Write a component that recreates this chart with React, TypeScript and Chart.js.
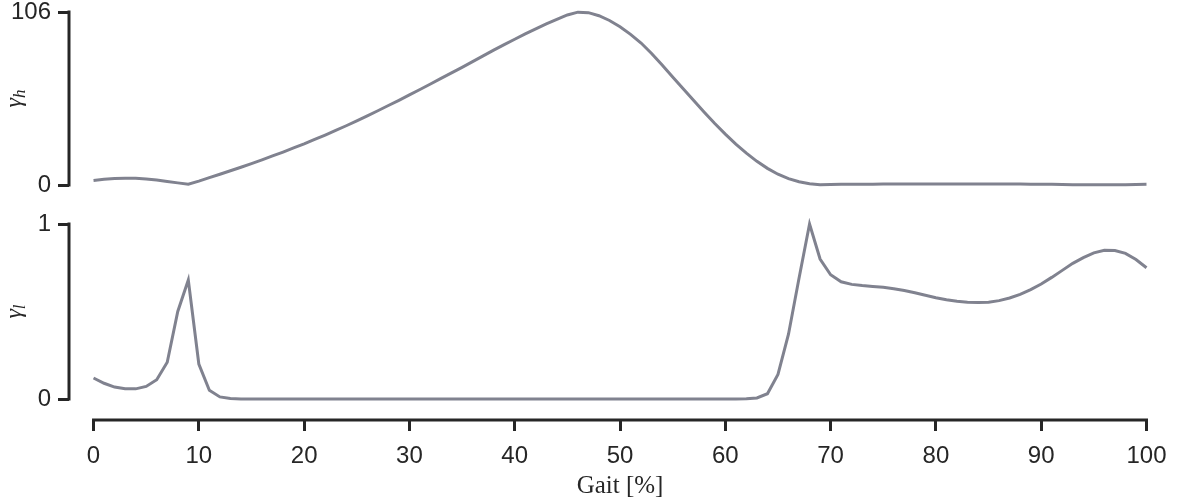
import React, { useEffect, useRef } from "react";
import { Chart, registerables } from "chart.js";
Chart.register(...registerables);

// ---- data ----
const gaitPct: number[] = [
  0, 1, 2, 3, 4, 5, 6, 7, 8, 9, 10, 11, 12, 13, 14, 15, 16, 17, 18, 19, 20,
  21, 22, 23, 24, 25, 26, 27, 28, 29, 30, 31, 32, 33, 34, 35, 36, 37, 38, 39, 40,
  41, 42, 43, 44, 45, 46, 47, 48, 49, 50, 51, 52, 53, 54, 55, 56, 57, 58, 59, 60,
  61, 62, 63, 64, 65, 66, 67, 68, 69, 70, 71, 72, 73, 74, 75, 76, 77, 78, 79, 80,
  81, 82, 83, 84, 85, 86, 87, 88, 89, 90, 91, 92, 93, 94, 95, 96, 97, 98, 99, 100,
];

const gammaH: number[] = [
  2.8, 3.5, 4.0, 4.2, 4.1, 3.7, 3.0, 2.1, 1.3, 0.5,
  2.4, 4.5, 6.6, 8.7, 10.9, 13.1, 15.4, 17.8, 20.2, 22.7,
  25.2, 27.9, 30.6, 33.4, 36.3, 39.3, 42.4, 45.5, 48.7, 51.9,
  55.2, 58.5, 61.9, 65.3, 68.7, 72.1, 75.6, 79.1, 82.6, 86.0,
  89.3, 92.6, 95.7, 98.7, 101.5, 104.2, 105.9, 105.6, 103.7, 100.8,
  97.0, 92.3, 87.0, 80.6, 73.5, 66.2, 59.0, 51.8, 44.6, 37.7,
  31.2, 25.0, 19.5, 14.5, 10.2, 6.6, 3.9, 2.0, 0.8, 0.2,
  0.3, 0.4, 0.5, 0.5, 0.5, 0.6, 0.6, 0.6, 0.6, 0.6,
  0.6, 0.6, 0.6, 0.6, 0.6, 0.6, 0.6, 0.6, 0.6, 0.5,
  0.5, 0.4, 0.3, 0.2, 0.2, 0.1, 0.1, 0.1, 0.2, 0.3,
  0.4,
];

const gammaL: number[] = [
  0.12, 0.09, 0.068, 0.058, 0.058, 0.072, 0.11, 0.21, 0.5, 0.68,
  0.2, 0.05, 0.012, 0.003, 0, 0, 0, 0, 0, 0,
  0, 0, 0, 0, 0, 0, 0, 0, 0, 0,
  0, 0, 0, 0, 0, 0, 0, 0, 0, 0,
  0, 0, 0, 0, 0, 0, 0, 0, 0, 0,
  0, 0, 0, 0, 0, 0, 0, 0, 0, 0,
  0, 0, 0.001, 0.006, 0.03, 0.14, 0.37, 0.69, 1.0, 0.8,
  0.71, 0.67, 0.655, 0.648, 0.643, 0.638, 0.63, 0.62, 0.607, 0.593,
  0.579, 0.567, 0.558, 0.553, 0.551, 0.553, 0.562, 0.577, 0.598, 0.625,
  0.657, 0.695, 0.735, 0.775, 0.808, 0.835, 0.85, 0.848, 0.832, 0.797,
  0.75,
];

const xTicks: number[] = [0, 10, 20, 30, 40, 50, 60, 70, 80, 90, 100];
const hTicks: number[] = [0, 106];
const lTicks: number[] = [0, 1];
const xLabel = "Gait [%]";

// ---- style ----
const LINE = "#80828f";
const AXIS = "#262626";
const SANS = "'Liberation Sans', Arial, sans-serif";
const SERIF = "'Liberation Serif', 'DejaVu Serif', serif";
const X_MIN = -2.33;
const X_MAX = 100;

function makeConfig(
  values: number[],
  yTicks: number[],
  yMin: number,
  sym: string,
  sub: string,
  showX: boolean,
  padding: any
): any {
  const axesPlugin = {
    id: "axesDecor",
    afterDraw(chart: any) {
      const ctx = chart.ctx;
      const xs = chart.scales.x;
      const ys = chart.scales.y;
      const area = chart.chartArea;
      ctx.save();
      ctx.strokeStyle = AXIS;
      ctx.lineWidth = 3;
      ctx.lineCap = "square";
      ctx.beginPath();
      ctx.moveTo(area.left, ys.getPixelForValue(yTicks[0]));
      ctx.lineTo(area.left, ys.getPixelForValue(yTicks[yTicks.length - 1]));
      ctx.stroke();
      if (showX) {
        ctx.beginPath();
        ctx.moveTo(xs.getPixelForValue(xTicks[0]), area.bottom);
        ctx.lineTo(xs.getPixelForValue(xTicks[xTicks.length - 1]), area.bottom);
        ctx.stroke();
        ctx.fillStyle = AXIS;
        ctx.font = `25px ${SERIF}`;
        ctx.textAlign = "center";
        ctx.textBaseline = "alphabetic";
        const cx = (xs.getPixelForValue(xTicks[0]) + xs.getPixelForValue(xTicks[xTicks.length - 1])) / 2;
        ctx.fillText(xLabel, cx, area.bottom + 73);
      }
      // y label (rotated, italic with subscript)
      const cy = (ys.getPixelForValue(yTicks[0]) + ys.getPixelForValue(yTicks[yTicks.length - 1])) / 2;
      ctx.translate(21, cy);
      ctx.rotate(-Math.PI / 2);
      ctx.fillStyle = AXIS;
      ctx.textBaseline = "alphabetic";
      ctx.textAlign = "left";
      ctx.font = `italic 24px ${SERIF}`;
      const w1 = ctx.measureText(sym).width;
      ctx.font = `italic 17px ${SERIF}`;
      const w2 = ctx.measureText(sub).width;
      const start = -(w1 + w2) / 2;
      ctx.font = `italic 24px ${SERIF}`;
      ctx.fillText(sym, start, 0);
      ctx.font = `italic 17px ${SERIF}`;
      ctx.fillText(sub, start + w1, 4);
      ctx.restore();
    },
  };

  return {
    type: "line",
    data: {
      datasets: [
        {
          data: gaitPct.map((g, i) => ({ x: g, y: values[i] })),
          borderColor: LINE,
          borderWidth: 3,
          pointRadius: 0,
          tension: 0,
          fill: false,
          clip: false,
        },
      ],
    },
    options: {
      responsive: false,
      animation: false,
      devicePixelRatio: 1,
      layout: { padding },
      plugins: { legend: { display: false }, tooltip: { enabled: false } },
      scales: {
        x: {
          type: "linear",
          min: X_MIN,
          max: X_MAX,
          display: showX,
          afterBuildTicks: (s: any) => {
            s.ticks = xTicks.map((v) => ({ value: v }));
          },
          afterFit: (s: any) => {
            if (showX) s.height = 83;
            s.paddingLeft = 0;
            s.paddingRight = 0;
          },
          border: { display: false },
          grid: {
            display: true,
            drawOnChartArea: false,
            drawTicks: true,
            tickLength: 11,
            color: AXIS,
            lineWidth: 3,
          },
          ticks: {
            color: AXIS,
            font: { family: SANS, size: 24 },
            padding: 11,
            maxRotation: 0,
            autoSkip: false,
          },
        },
        y: {
          type: "linear",
          min: yMin,
          max: yTicks[yTicks.length - 1],
          afterBuildTicks: (s: any) => {
            s.ticks = yTicks.map((v) => ({ value: v }));
          },
          afterFit: (s: any) => {
            s.width = 69;
            s.paddingTop = 0;
            s.paddingBottom = 0;
          },
          border: { display: false },
          grid: {
            display: true,
            drawOnChartArea: false,
            drawTicks: true,
            tickLength: 11,
            color: AXIS,
            lineWidth: 3,
          },
          ticks: {
            color: AXIS,
            font: { family: SANS, size: 24 },
            padding: 7,
            autoSkip: false,
          },
        },
      },
    },
    plugins: [axesPlugin],
  };
}

export default function App() {
  const topRef = useRef<HTMLCanvasElement>(null);
  const botRef = useRef<HTMLCanvasElement>(null);

  useEffect(() => {
    const c1 = new Chart(
      topRef.current as HTMLCanvasElement,
      makeConfig(gammaH, hTicks, 0, "γ", "h", false, { top: 12, bottom: 15, left: 0, right: 38.5 })
    );
    const c2 = new Chart(
      botRef.current as HTMLCanvasElement,
      makeConfig(gammaL, lTicks, -0.12, "γ", "l", true, { top: 24, bottom: 0, left: 0, right: 38.5 })
    );
    return () => {
      c1.destroy();
      c2.destroy();
    };
  }, []);

  return (
    <div style={{ position: "absolute", left: 0, top: 0, width: 1185, height: 503, background: "#fff" }}>
      <canvas ref={topRef} width={1185} height={200} style={{ position: "absolute", left: 0, top: 0, display: "block" }} />
      <canvas ref={botRef} width={1185} height={303} style={{ position: "absolute", left: 0, top: 200, display: "block" }} />
    </div>
  );
}
